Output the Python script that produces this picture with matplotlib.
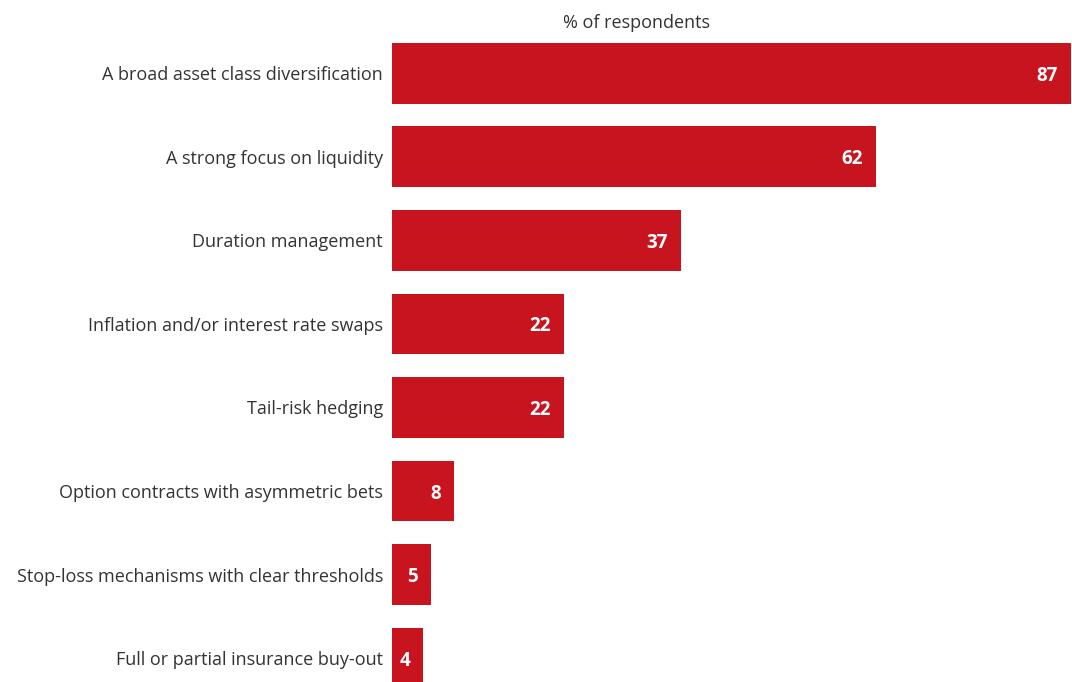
import matplotlib.pyplot as plt

# Survey answers, top to bottom
categories = [
    'A broad asset class diversification',
    'A strong focus on liquidity',
    'Duration management',
    'Inflation and/or interest rate swaps',
    'Tail-risk hedging',
    'Option contracts with asymmetric bets',
    'Stop-loss mechanisms with clear thresholds',
    'Full or partial insurance buy-out',
]
values = [87, 62, 37, 22, 22, 8, 5, 4]

bar_color = '#C8141F'
text_color = '#333333'

plt.rcParams['font.family'] = ['Open Sans', 'DejaVu Sans']

fig = plt.figure(figsize=(10.72, 6.82), dpi=100)
ax = fig.add_axes([0.3657, 0.0, 0.6334, 0.937])

y = list(range(len(categories)))
bars = ax.barh(y, values, height=0.73, color=bar_color)

ax.set_xlim(0, max(values))
ax.set_ylim(7.287, -0.365)

ax.set_yticks(y)
ax.set_yticklabels(categories, fontsize=13, color=text_color,
                   va='center_baseline')
ax.tick_params(axis='y', length=0, pad=6.5)
ax.set_xticks([])
for side in ax.spines.values():
    side.set_visible(False)

# value labels inside the bar ends
for bar, v in zip(bars, values):
    ax.annotate(str(v), xy=(bar.get_width(), bar.get_y() + bar.get_height() / 2),
                xytext=(-13, 0), textcoords='offset pixels',
                ha='right', va='center_baseline', color='white', fontsize=13.5,
                fontweight='bold')

fig.text(0.5935, 0.967, '% of respondents', ha='center', va='center',
         fontsize=13, color=text_color)

fig.savefig('out.png', dpi=100)
